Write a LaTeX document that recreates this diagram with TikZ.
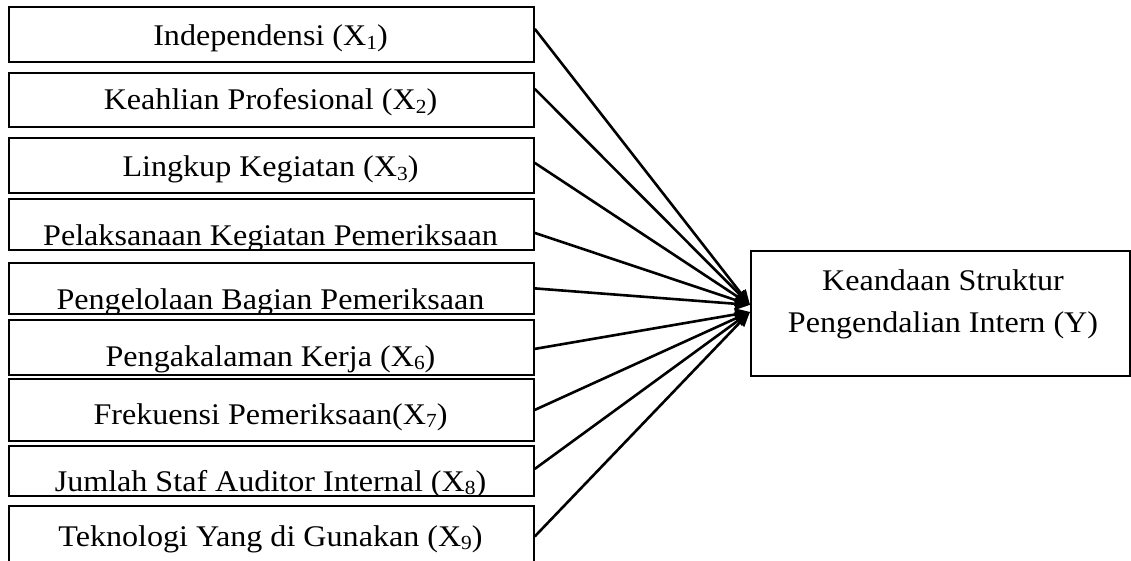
\documentclass[tikz,border=0pt]{standalone}
\usepackage{fontspec}
\setmainfont{Liberation Serif}[FakeStretch=1.07]
\usetikzlibrary{arrows.meta}
\newcommand\subx[1]{\raisebox{-0.12em}{\fontsize{20}{20}\selectfont #1}}
\begin{document}
\begin{tikzpicture}[x=1pt,y=-1pt,
  vbox/.style={draw=black,line width=1.8pt,rectangle,inner sep=0pt,anchor=north west,minimum width=525pt},
  lbl/.style={anchor=base,inner sep=0pt,font=\fontsize{30}{36}\selectfont},
  arr/.style={line width=2.6pt,-{Triangle[length=15pt,width=12pt]}}]
\clip (0,0) rectangle (1131,561);
\fill[white] (0,0) rectangle (1131,561);
% left boxes
\node[vbox,minimum height=55pt] (b1) at (8,6) {};
\node[vbox,minimum height=54pt] (b2) at (8,72) {};
\node[vbox,minimum height=55pt] (b3) at (8,137) {};
\node[vbox,minimum height=51pt] (b4) at (8,198) {};
\node[vbox,minimum height=51pt] (b5) at (8,262) {};
\node[vbox,minimum height=55pt] (b6) at (8,319) {};
\node[vbox,minimum height=62pt] (b7) at (8,378) {};
\node[vbox,minimum height=50pt] (b8) at (8,445) {};
\node[vbox,minimum height=70pt] (b9) at (8,505) {};
% texts
\node[lbl] (t1) at (270.5,46) {Independensi (X\subx{1})};
\node[lbl] (t2) at (270.5,110) {Keahlian Profesional (X\subx{2})};
\node[lbl] (t3) at (270.5,177) {Lingkup Kegiatan (X\subx{3})};
\begin{scope}
\clip (b4.south west) rectangle (b4.north east);
\node[lbl] (t4) at (270.5,245) {Pelaksanaan Kegiatan Pemeriksaan};
\end{scope}
\begin{scope}
\clip (b5.south west) rectangle (b5.north east);
\node[lbl] (t5) at (270.5,309) {Pengelolaan Bagian Pemeriksaan};
\end{scope}
\begin{scope}
\clip (b6.south west) rectangle (b6.north east);
\node[lbl] (t6) at (270.5,366) {Pengakalaman Kerja (X\subx{6})};
\end{scope}
\node[lbl] (t7) at (270.5,424) {Frekuensi Pemeriksaan(X\subx{7})};
\begin{scope}
\clip (b8.south west) rectangle (b8.north east);
\node[lbl] (t8) at (270.5,491) {Jumlah Staf Auditor Internal (X\subx{8})};
\end{scope}
\node[lbl] (t9) at (270.5,546) {Teknologi Yang di Gunakan (X\subx{9})};
% right box
\node[draw=black,line width=1.8pt,rectangle,inner sep=0pt,anchor=north west,minimum width=379pt,minimum height=125pt] (Y) at (750,250) {};
\node[lbl] (y1) at (943,290) {Keandaan Struktur};
\node[lbl] (y2) at (943,332) {Pengendalian Intern (Y)};
% arrows
\draw[arr] ([yshift=5.5pt]b1.east) -- ([yshift=8.5pt]Y.west);
\draw[arr] ([yshift=11pt]b2.east) -- ([yshift=8.5pt]Y.west);
\draw[arr] ([yshift=2.5pt]b3.east) -- ([yshift=8.5pt]Y.west);
\draw[arr] ([yshift=-8.5pt]b4.east) -- ([yshift=8.5pt]Y.west);
\draw[arr] (b5.east) -- ([yshift=8.5pt]Y.west);
\draw[arr] ([yshift=-1.5pt]b6.east) -- ([yshift=1.5pt]Y.west);
\draw[arr] (b7.east) -- ([yshift=1.5pt]Y.west);
\draw[arr] ([yshift=2pt]b8.east) -- ([yshift=1.5pt]Y.west);
\draw[arr] ([yshift=4.5pt]b9.east) -- ([yshift=1.5pt]Y.west);
\end{tikzpicture}
\end{document}
